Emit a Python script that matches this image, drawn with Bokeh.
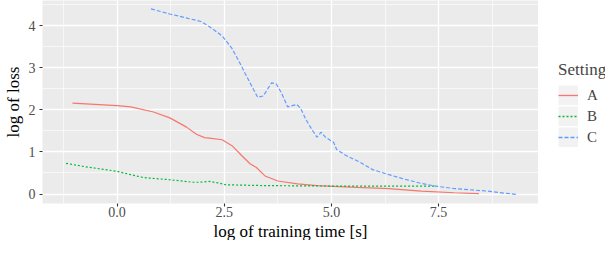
from bokeh.plotting import figure
from bokeh.layouts import row
from bokeh.models import Range1d, FixedTicker, NumeralTickFormatter, Legend, LegendItem, Title
from bokeh.embed import file_html
from bokeh.resources import INLINE

# ---- data ----
settings = ["A", "B", "C"]
colors = ["#F8766D", "#00BA38", "#619CFF"]
dashes = ["solid", "2 2", "4 2"]

A_x = [-1.04, 0.0, 0.32, 0.85, 1.23, 1.62, 1.85, 2.04, 2.15, 2.45, 2.68, 2.91, 3.0, 3.1,
       3.25, 3.45, 3.75, 4.21, 4.66, 5.58, 6.34, 7.10, 7.87, 8.44]
A_y = [2.16, 2.10, 2.07, 1.95, 1.81, 1.59, 1.42, 1.34, 1.33, 1.29, 1.15, 0.91, 0.82, 0.72,
       0.63, 0.43, 0.31, 0.24, 0.20, 0.16, 0.13, 0.07, 0.03, 0.01]

B_x = [-1.19, -0.75, 0.0, 0.32, 0.62, 1.23, 1.77, 1.92, 2.15, 2.38, 2.53, 3.45, 4.96, 5.81, 7.41]
B_y = [0.73, 0.65, 0.54, 0.46, 0.39, 0.34, 0.28, 0.28, 0.30, 0.26, 0.22, 0.20, 0.19, 0.19, 0.19]

C_x = [0.79, 1.23, 1.96, 2.15, 2.45, 2.68, 2.84, 2.99, 3.18, 3.28, 3.41, 3.60, 3.71, 3.83,
       3.98, 4.19, 4.28, 4.40, 4.51, 4.66, 4.76, 4.86, 5.05, 5.12, 5.35, 5.66, 5.96, 6.34,
       6.72, 7.10, 7.48, 7.87, 8.63, 9.31]
C_y = [4.40, 4.28, 4.10, 3.98, 3.76, 3.46, 3.16, 2.86, 2.49, 2.30, 2.33, 2.64, 2.62, 2.41,
       2.07, 2.13, 2.04, 1.78, 1.59, 1.35, 1.47, 1.35, 1.23, 1.06, 0.91, 0.76, 0.58, 0.46,
       0.35, 0.25, 0.18, 0.13, 0.07, -0.01]

x_ticks = [0.0, 2.5, 5.0, 7.5]
x_minor = [-1.25, 1.25, 3.75, 6.25, 8.75]
y_ticks = [0, 1, 2, 3, 4]
y_minor = [0.5, 1.5, 2.5, 3.5, 4.5]

x_label = "log of training time [s]"
y_label = "log of loss"
legend_title = "Setting"

FONT = "Liberation Serif"

# ---- main panel ----
p = figure(width=538, height=240, output_backend="svg", toolbar_location=None,
           x_range=Range1d(-1.74, 9.83), y_range=Range1d(-0.225, 4.60),
           min_border_left=32, min_border_right=0, min_border_top=0, min_border_bottom=0)
p.background_fill_color = "#EBEBEB"
p.border_fill_color = "white"
p.outline_line_color = None

p.xaxis.ticker = FixedTicker(ticks=x_ticks, minor_ticks=x_minor)
p.yaxis.ticker = FixedTicker(ticks=y_ticks, minor_ticks=y_minor)
p.xaxis.formatter = NumeralTickFormatter(format="0.0")
p.yaxis.formatter = NumeralTickFormatter(format="0")

for ax in (p.xaxis[0], p.yaxis[0]):
    ax.axis_line_color = None
    ax.major_tick_line_color = "#333333"
    ax.major_tick_line_width = 1.1
    ax.major_tick_out = 3
    ax.major_tick_in = 0
    ax.minor_tick_line_color = None
    ax.major_label_text_font = FONT
    ax.major_label_text_font_size = "14px"
    ax.major_label_text_color = "#4D4D4D"
    ax.axis_label_text_font = FONT
    ax.axis_label_text_font_size = "17px"
    ax.axis_label_text_font_style = "normal"
    ax.axis_label_text_color = "black"
p.xaxis[0].major_label_standoff = -1
p.yaxis[0].major_label_standoff = 3
p.yaxis[0].axis_label_standoff = 3
p.yaxis[0].axis_label = y_label

xt = Title(text=x_label, align="center", text_font=FONT, text_font_size="17px",
           text_font_style="normal", text_color="black", standoff=0, offset=0)
p.add_layout(xt, "below")

for g in (p.xgrid[0], p.ygrid[0]):
    g.grid_line_color = "white"
    g.grid_line_width = 1.3
    g.minor_grid_line_color = "white"
    g.minor_grid_line_width = 0.6

series = [(A_x, A_y), (B_x, B_y), (C_x, C_y)]
for (xs, ys), col, dash in zip(series, colors, dashes):
    p.line(x=xs, y=ys, line_color=col, line_width=1.2, line_dash=dash)

# ---- legend panel: key glyphs reuse the series, kept out of its (empty) view ----
lg = figure(width=67, height=240, output_backend="svg", toolbar_location=None,
            min_border=0, x_axis_type=None, y_axis_type=None,
            x_range=Range1d(100, 101), y_range=Range1d(100, 101))
lg.outline_line_color = None
lg.grid.visible = False
lg.background_fill_color = "white"
items = []
for (xs, ys), name, col, dash in zip(series, settings, colors, dashes):
    bg = lg.line(x=xs, y=ys, line_width=20, line_color="#F2F2F2", line_cap="butt")
    r = lg.line(x=xs, y=ys, line_color=col, line_width=1.3, line_dash=dash)
    items.append(LegendItem(label=name, renderers=[bg, r]))

legend = Legend(items=items, location=(20, 56), title=legend_title,
                title_text_font=FONT, title_text_font_size="17px", title_text_font_style="normal",
                title_standoff=5, label_text_font=FONT, label_text_font_size="15px",
                glyph_width=20, glyph_height=20, spacing=1, padding=0, margin=0,
                label_standoff=9, background_fill_alpha=0, border_line_color=None)
lg.add_layout(legend, "center")

layout = row(p, lg)
open("out.html", "w").write(file_html(layout, INLINE))
